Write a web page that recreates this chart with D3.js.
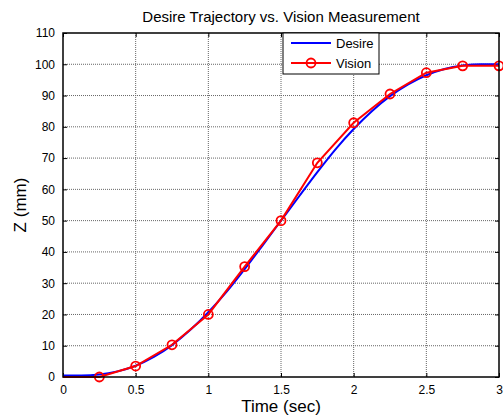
<!DOCTYPE html>
<html>
<head>
<meta charset="utf-8">
<script src="https://cdn.jsdelivr.net/npm/d3@7"></script>
<style>
  body { margin: 0; background: #fff; }
  svg { font-family: "Liberation Sans", Arial, sans-serif; }
</style>
</head>
<body>
<svg id="chart" width="503" height="417"></svg>
<script>
// data
var desireT = [0, 0.125, 0.25, 0.375, 0.5, 0.625, 0.75, 0.875, 1, 1.125, 1.25, 1.375, 1.5,
               1.625, 1.75, 1.875, 2, 2.125, 2.25, 2.375, 2.5, 2.625, 2.75, 2.875, 3];
var desireZ = [0.5, 0.5, 0.8, 1.8, 3.6, 6.4, 10.2, 15, 20.7, 27.2, 34.5, 42.2, 50,
               57.8, 65.5, 72.8, 79.3, 85, 89.8, 93.6, 96.5, 98.5, 99.6, 100, 100];
var visionT = [0, 0.25, 0.5, 0.75, 1, 1.25, 1.5, 1.75, 2, 2.25, 2.5, 2.75, 3];
var visionZ = [0, 0, 3.5, 10.3, 20, 35.3, 50, 68.5, 81.3, 90.5, 97.3, 99.5, 99.5];
var xTicks = [0, 0.5, 1, 1.5, 2, 2.5, 3];
var yTicks = [0, 10, 20, 30, 40, 50, 60, 70, 80, 90, 100, 110];

var margin = { top: 33, right: 4, bottom: 40, left: 63 },
    width = 503 - margin.left - margin.right,
    height = 417 - margin.top - margin.bottom;

var xScale = d3.scaleLinear().domain([0, 3]).range([0, width]);
var yScale = d3.scaleLinear().domain([0, 110]).range([height, 0]);

var svg = d3.select("#chart")
    .append("g")
    .attr("transform", "translate(" + margin.left + "," + margin.top + ")");

// grid
svg.append("g").selectAll("line.gx")
    .data(xTicks.slice(1, -1)).enter().append("line")
    .attr("x1", d => xScale(d)).attr("x2", d => xScale(d))
    .attr("y1", 0).attr("y2", height)
    .attr("stroke", "#666").attr("stroke-dasharray", "1,1");
svg.append("g").selectAll("line.gy")
    .data(yTicks.slice(1, -1)).enter().append("line")
    .attr("y1", d => yScale(d)).attr("y2", d => yScale(d))
    .attr("x1", 0).attr("x2", width)
    .attr("stroke", "#666").attr("stroke-dasharray", "1,1");

// axes (inner ticks, box)
var fmt = d3.format("~g");
var xAxis = d3.axisBottom(xScale).tickValues(xTicks).tickFormat(fmt).tickSizeInner(-4).tickSizeOuter(0).tickPadding(8);
var yAxis = d3.axisLeft(yScale).tickValues(yTicks).tickFormat(fmt).tickSizeInner(-4).tickSizeOuter(0).tickPadding(8);
var xTop = d3.axisTop(xScale).tickValues(xTicks).tickSizeInner(-4).tickSizeOuter(0).tickFormat("");
var yRight = d3.axisRight(yScale).tickValues(yTicks).tickSizeInner(-4).tickSizeOuter(0).tickFormat("");

svg.append("g").attr("transform", "translate(0," + height + ")").call(xAxis);
svg.append("g").call(yAxis);
svg.append("g").call(xTop);
svg.append("g").attr("transform", "translate(" + width + ",0)").call(yRight);
svg.selectAll(".domain").remove();
svg.selectAll(".tick line").attr("stroke", "#000");
svg.selectAll(".tick text").attr("font-size", 12).attr("fill", "#000")
    .attr("font-family", "Liberation Sans, Arial, sans-serif");

// lines
var desire = desireT.map((t, i) => [t, desireZ[i]]);
var vision = visionT.map((t, i) => [t, visionZ[i]]);

svg.append("path")
    .attr("d", d3.line().curve(d3.curveMonotoneX).x(d => xScale(d[0])).y(d => yScale(d[1]))(desire))
    .attr("fill", "none").attr("stroke", "#0000ff").attr("stroke-width", 2);
svg.append("path")
    .attr("d", d3.line().x(d => xScale(d[0])).y(d => yScale(d[1]))(vision))
    .attr("fill", "none").attr("stroke", "#ff0000").attr("stroke-width", 2);
svg.append("g").selectAll("circle")
    .data(vision.filter(d => d[0] > 0)).enter().append("circle")
    .attr("cx", d => xScale(d[0])).attr("cy", d => yScale(d[1]))
    .attr("r", 4.5).attr("fill", "none").attr("stroke", "#ff0000").attr("stroke-width", 1.8);

// box
svg.append("rect").attr("width", width).attr("height", height)
    .attr("fill", "none").attr("stroke", "#000").attr("stroke-width", 1.5);

// legend
var lg = svg.append("g").attr("transform", "translate(" + (283 - margin.left) + "," + (33 - margin.top) + ")");
lg.append("rect").attr("width", 96).attr("height", 41)
    .attr("fill", "#fff").attr("stroke", "#000").attr("stroke-width", 1);
lg.append("line").attr("x1", 8).attr("x2", 48).attr("y1", 10).attr("y2", 10)
    .attr("stroke", "#0000ff").attr("stroke-width", 2);
lg.append("text").attr("x", 53).attr("y", 15).attr("font-size", 13).text("Desire");
lg.append("line").attr("x1", 8).attr("x2", 48).attr("y1", 30).attr("y2", 30)
    .attr("stroke", "#ff0000").attr("stroke-width", 2);
lg.append("circle").attr("cx", 28).attr("cy", 30).attr("r", 4.5)
    .attr("fill", "none").attr("stroke", "#ff0000").attr("stroke-width", 1.8);
lg.append("text").attr("x", 53).attr("y", 35).attr("font-size", 13).text("Vision");

// title and labels
svg.append("text").attr("x", width / 2).attr("y", -11)
    .attr("text-anchor", "middle").attr("font-size", 15)
    .text("Desire Trajectory vs. Vision Measurement");
svg.append("text").attr("x", width / 2).attr("y", height + 35)
    .attr("text-anchor", "middle").attr("font-size", 17)
    .text("Time (sec)");
svg.append("text")
    .attr("transform", "translate(" + (-37) + "," + (height / 2) + ") rotate(-90)")
    .attr("text-anchor", "middle").attr("font-size", 17)
    .text("Z (mm)");
</script>
</body>
</html>
